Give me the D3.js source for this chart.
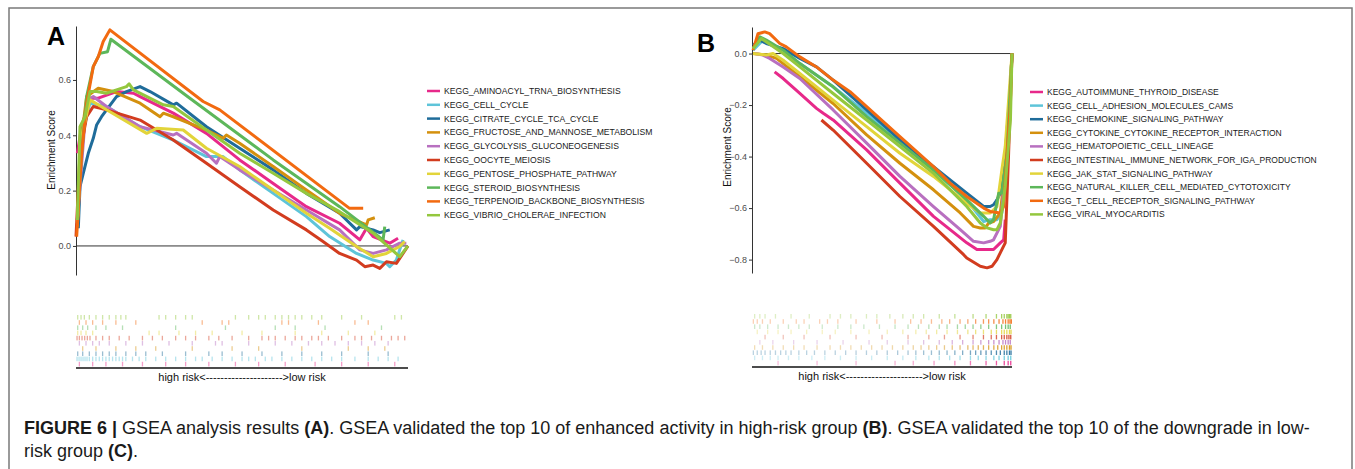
<!DOCTYPE html>
<html>
<head>
<meta charset="utf-8">
<script src="https://cdn.jsdelivr.net/npm/d3@7"></script>
<style>
body { margin: 0; background: #fff; }
text { font-family: "Liberation Sans", Arial, sans-serif; }
</style>
</head>
<body>
<svg id="fig"></svg>
<script>
// ---------- panel A : enriched in high risk ----------
const namesA = ["KEGG_AMINOACYL_TRNA_BIOSYNTHESIS", "KEGG_CELL_CYCLE", "KEGG_CITRATE_CYCLE_TCA_CYCLE",
  "KEGG_FRUCTOSE_AND_MANNOSE_METABOLISM", "KEGG_GLYCOLYSIS_GLUCONEOGENESIS", "KEGG_OOCYTE_MEIOSIS",
  "KEGG_PENTOSE_PHOSPHATE_PATHWAY", "KEGG_STEROID_BIOSYNTHESIS", "KEGG_TERPENOID_BACKBONE_BIOSYNTHESIS",
  "KEGG_VIBRIO_CHOLERAE_INFECTION"];
const namesB = ["KEGG_AUTOIMMUNE_THYROID_DISEASE", "KEGG_CELL_ADHESION_MOLECULES_CAMS", "KEGG_CHEMOKINE_SIGNALING_PATHWAY",
  "KEGG_CYTOKINE_CYTOKINE_RECEPTOR_INTERACTION", "KEGG_HEMATOPOIETIC_CELL_LINEAGE", "KEGG_INTESTINAL_IMMUNE_NETWORK_FOR_IGA_PRODUCTION",
  "KEGG_JAK_STAT_SIGNALING_PATHWAY", "KEGG_NATURAL_KILLER_CELL_MEDIATED_CYTOTOXICITY", "KEGG_T_CELL_RECEPTOR_SIGNALING_PATHWAY",
  "KEGG_VIRAL_MYOCARDITIS"];
const colors = ["#e7298a", "#5ec4d9", "#1f6c9a", "#d4900e", "#b870c0", "#d23c1f", "#e2d43a", "#5db75a", "#f26a10", "#94c73e"];

// running enrichment score, [rank %, ES]
const aAminoacyl = [[0.4,0.335],[1.7,0.431],[4.2,0.534],[6.7,0.534],[12.2,0.558],[17.3,0.552],[19.3,0.54],[29.3,0.48],[39.3,0.407],[49.3,0.311],[59.4,0.226],[69.4,0.142],[79.4,0.082],[85.5,0.022],[87.5,0.064],[89.5,0.034],[94.5,0.01],[97,0.028]];
const aCellCycle = [[0.4,0.07],[2.2,0.419],[4.2,0.516],[9.2,0.504],[19.3,0.431],[29.3,0.383],[39.3,0.323],[44.3,0.323],[49.3,0.275],[59.4,0.19],[69.4,0.106],[76.4,0.034],[84.5,-0.027],[89.5,-0.051],[93.5,-0.063],[94.5,-0.075],[96.5,-0.051],[97.5,-0.014],[98.5,0.022]];
const aCitrate = [[0.7,0.064],[1.2,0.214],[2.2,0.263],[3.7,0.335],[5.2,0.389],[6.2,0.437],[7.7,0.467],[9.2,0.492],[12.2,0.54],[15.2,0.558],[19.3,0.576],[22.3,0.558],[29.3,0.51],[30.3,0.516],[39.3,0.431],[49.3,0.353],[59.4,0.275],[69.4,0.19],[79.4,0.118],[84.5,0.058],[85.5,0.07],[89.5,0.058],[91.5,0.048],[94.5,0.058]];
const aFructose = [[0.4,0.07],[1.7,0.395],[3.2,0.54],[6.7,0.57],[11.2,0.558],[19.3,0.516],[25.3,0.467],[26.3,0.48],[29.3,0.467],[39.3,0.419],[44.3,0.389],[45.3,0.401],[49.3,0.371],[59.4,0.287],[69.4,0.202],[79.4,0.118],[87.5,0.076],[88,0.094],[90,0.102]];
const aGlycolysis = [[0.4,0.094],[3.2,0.528],[5.2,0.54],[9.2,0.504],[19.3,0.431],[29.3,0.401],[30.3,0.407],[39.3,0.335],[42.3,0.299],[43.3,0.323],[49.3,0.275],[59.4,0.202],[69.4,0.13],[79.4,0.058],[85.5,-0.014],[89.5,-0.027],[93.5,-0.014],[97.5,0.01],[99.5,0.01]];
const aOocyte = [[0,0.034],[1.2,0.335],[3.2,0.467],[5.2,0.504],[9.2,0.492],[19.3,0.455],[29.3,0.383],[39.3,0.299],[49.3,0.214],[59.4,0.13],[69.4,0.058],[74.4,0.016],[79.4,-0.027],[84.5,-0.051],[87,-0.075],[89.5,-0.069],[91.5,-0.081],[93.5,-0.057],[96.5,-0.063],[98.5,-0.027],[100,0]];
const aPentose = [[0.4,0.082],[1.7,0.395],[4.2,0.528],[9.2,0.492],[21.3,0.407],[24.3,0.425],[32.3,0.419],[39.3,0.353],[49.3,0.287],[59.4,0.202],[69.4,0.118],[76.4,0.064],[84.5,-0.002],[89.5,-0.039],[93.5,-0.027],[97.5,-0.002],[99,0.016]];
const aSteroid = [[0.4,0.094],[1.7,0.335],[3.2,0.54],[5.2,0.648],[7.2,0.696],[9.5,0.702],[10.5,0.747],[34.3,0.534],[59.4,0.311],[79.4,0.142],[92.5,0.022],[93,0.07]];
const aTerpenoid = [[0.2,0.034],[1.7,0.335],[3.2,0.516],[5.2,0.648],[6.7,0.684],[8.2,0.739],[10.2,0.781],[38.3,0.522],[43.3,0.492],[82.4,0.136],[86.5,0.136]];
const aVibrio = [[0.4,0.094],[1.2,0.431],[2.7,0.467],[4.2,0.558],[6.2,0.558],[9.2,0.552],[12.2,0.564],[15.2,0.576],[16,0.586],[17.3,0.564],[26.3,0.51],[29.3,0.504],[39.3,0.419],[49.3,0.335],[59.4,0.263],[69.4,0.19],[79.4,0.124],[89.5,0.046],[97.5,-0.039],[100,0]];

// gene-set hits along the ranked list (rank %)
const hitsA = [
  [1,5,9,14,20,27,33,40,48,55,63,72,80,88,96],
  [0.3,0.9,1.5,2.1,2.7,3.3,4,5,6,7,8,9,10,11,12,13,14,15,17,19,21,24,27,30,33,36,38,41,44,47,50,52,54,57,59,62,65,68,71,74,77,80,84,88,91,94,97],
  [0.5,2,4,6,8,10,12,15,18,21,26,33,40,44,50,56,62,68,74,80,88,94],
  [2,6,12,18,24,35,47,55,68,82,88,93],
  [1,3,5,7,10,15,20,28,35,42,44,52,60,65,70,74,78,82,86,90,94],
  [0.3,1,1.8,2.6,3.4,4.2,6,8,10,13,16,20,23,26,30,33,36,40,43,47,52,56,58,60,63,66,68,71,73,76,80,84,86,89,92,95,97,99],
  [0.5,1.5,3,5,22,25,31,36,41,50,56,66,74,82,90],
  [0.5,2,3.5,6,9,14,30,45,60,66,75,92],
  [1,3,5,8,12,18,38,44,46,62,64,73,84,88],
  [0.5,1.5,2.5,4,6,8,10,12,13.5,15,25,27,30,33,35,48,52,55,57,60,62,64,66,68,71,74,80,86,96,98]
];

// ---------- panel B : enriched in low risk ----------
const bAutoimmune = [[8.7,-0.071],[12,-0.097],[18.4,-0.155],[24.8,-0.213],[27.4,-0.232],[31.2,-0.258],[44.1,-0.374],[56.9,-0.503],[69.8,-0.632],[82.6,-0.735],[86.5,-0.761],[89.1,-0.761],[92.9,-0.761],[95.5,-0.735],[96.8,-0.723],[97.4,-0.645]];
const bCellAdhesion = [[0.4,0.013],[4.2,0.052],[12,0.013],[18.4,-0.039],[31.2,-0.129],[44.1,-0.232],[56.9,-0.342],[69.8,-0.452],[82.6,-0.568],[86.5,-0.619],[89.1,-0.652],[91.6,-0.645],[94.2,-0.645],[96.1,-0.619],[98.1,-0.452],[100,0]];
const bChemokine = [[0.4,0.032],[3,0.052],[5.5,0.039],[12,0.019],[18.4,-0.019],[24.8,-0.052],[31.2,-0.103],[44.1,-0.219],[56.9,-0.335],[69.8,-0.439],[82.6,-0.542],[89.1,-0.594],[91.6,-0.594],[92.9,-0.587],[94.2,-0.568],[95.5,-0.542],[97.4,-0.387],[99.4,-0.129],[100,0]];
const bCytokine = [[0.4,0],[5.5,-0.006],[9.4,-0.019],[12,-0.039],[18.4,-0.09],[31.2,-0.194],[44.1,-0.316],[56.9,-0.426],[69.8,-0.529],[80.1,-0.619],[85.2,-0.671],[87.8,-0.677],[89.7,-0.677],[91,-0.658],[92.9,-0.652],[95.5,-0.619],[98.1,-0.387],[100,0]];
const bHematopoietic = [[1,0],[4.2,-0.006],[6.8,-0.019],[12,-0.052],[18.4,-0.097],[31.2,-0.219],[44.1,-0.348],[56.9,-0.477],[69.8,-0.594],[80.1,-0.684],[85.2,-0.729],[89.1,-0.735],[91.6,-0.729],[92.9,-0.723],[95.5,-0.671],[98.1,-0.387],[100,0]];
const bIntestinal = [[26.7,-0.258],[31.2,-0.297],[44.1,-0.426],[56.9,-0.555],[69.8,-0.671],[81.4,-0.781],[82.6,-0.794],[87.8,-0.826],[90.4,-0.832],[92.3,-0.826],[94.2,-0.8],[96.1,-0.761],[97.4,-0.735],[98.7,-0.387],[100,0]];
const bJakStat = [[0.4,0],[5.5,-0.006],[8.1,0],[12,-0.026],[18.4,-0.077],[31.2,-0.181],[44.1,-0.284],[56.9,-0.387],[69.8,-0.477],[82.6,-0.581],[87.8,-0.619],[91.6,-0.619],[94.2,-0.594],[96.1,-0.452],[97.4,-0.361],[100,0]];
const bNaturalKiller = [[0.4,0.019],[3,0.065],[5.5,0.052],[12,0.013],[18.4,-0.039],[31.2,-0.129],[44.1,-0.245],[56.9,-0.348],[69.8,-0.452],[82.6,-0.568],[89.1,-0.632],[91.6,-0.658],[92.9,-0.645],[94.9,-0.542],[96.1,-0.542],[98.1,-0.387],[100,0]];
const bTCell = [[0.4,0.013],[2.3,0.077],[4.9,0.084],[6.8,0.077],[10.7,0.039],[13.2,0.026],[18.4,-0.013],[24.8,-0.052],[31.2,-0.103],[37.7,-0.148],[44.1,-0.206],[56.9,-0.323],[69.8,-0.439],[76.2,-0.503],[82.6,-0.555],[89.1,-0.6],[91.6,-0.613],[95.5,-0.619],[96.8,-0.594],[98.1,-0.387],[99.4,-0.194],[100,0]];
const bViral = [[0.4,0.019],[3.6,0.058],[12,0],[18.4,-0.052],[31.2,-0.155],[44.1,-0.258],[56.9,-0.361],[69.8,-0.465],[82.6,-0.594],[87.8,-0.658],[90.4,-0.677],[92.9,-0.684],[94.2,-0.684],[95.5,-0.658],[97.4,-0.516],[99.4,-0.258],[100,0]];

const hitsB = [
  [10,25,40,55,62,70,78,84,90,94,97,98.5,99.5],
  [1,4,7,10,14,18,23,28,34,40,46,52,58,63,68,72,76,80,84,87,90,93,95,97,98.5,99.5],
  [0.5,2,3.5,5,7,9,11,13,15,18,21,24,28,32,36,40,44,48,52,56,60,63,66,69,72,75,78,81,84,86,88,90,92,94,95.5,97,98,99,99.6],
  [1,4,8,12,16,20,25,30,34,38,42,46,50,54,58,62,65,68,71,74,77,80,83,85,87,89,91,93,94.5,96,97,98,99,99.6],
  [3,8,16,25,35,45,52,60,66,72,77,81,85,88,91,93,95,96.5,97.5,98.5,99.3],
  [5,12,20,30,40,50,60,68,74,80,85,89,92,94,96,97,98,98.8,99.5],
  [2,6,10,15,21,27,32,38,45,52,58,63,67,71,75,79,83,86,89,92,94,96,97,98,99,99.6],
  [1,3,6,10,14,18,22,27,33,38,43,49,55,60,64,68,72,75,79,82,85,88,91,94,96,97.5,98.5,99.3],
  [0.5,2,4,7,12,17,20,26,29,33,40,48,55,61,65,69,73,76,80,83,86,89,91,93,95,96.5,97.5,98.5,99.2,99.7],
  [1,3,5,9,15,22,30,34,38,44,48,53,58,62,66,72,78,85,90,94,96,97,98,98.5,99,99.5]
];

const ticksA = [0, 0.2, 0.4, 0.6];
const ticksB = [-0.8, -0.6, -0.4, -0.2, 0];

const W = 1355, H = 469;
const svg = d3.select("#fig").attr("width", W).attr("height", H);

// figure frame
svg.append("rect").attr("x", 9).attr("y", 8).attr("width", 1343).attr("height", 480)
  .attr("fill", "none").attr("stroke", "#7a7a7a").attr("stroke-width", 1.5);

function panel(p) {
  const g = svg.append("g");
  const x = d3.scaleLinear().domain([0, 100]).range([p.x0, p.x1]);
  const y = d3.scaleLinear().domain(p.ydom).range([p.yb, p.yt]);

  g.append("text").attr("x", p.lx).attr("y", p.ly).attr("font-size", 25)
    .attr("font-weight", "bold").text(p.letter);

  const ax = g.append("g").attr("transform", `translate(${p.x0},0)`)
    .call(d3.axisLeft(y).tickValues(p.ticks).tickFormat(d3.format(".1f")).tickSize(3).tickPadding(2).tickSizeOuter(0));
  ax.select(".domain").attr("stroke", "#333");
  ax.selectAll(".tick line").attr("stroke", "#333");
  ax.selectAll(".tick text").attr("fill", "#4d4d4d").attr("font-size", 9)
    .style("font-family", "Liberation Sans, Arial, sans-serif");

  g.append("text").attr("transform", `translate(${p.x0 - 21},${p.ymid}) rotate(-90)`)
    .attr("text-anchor", "middle").attr("font-size", 10).attr("fill", "#111").text("Enrichment Score");

  g.append("line").attr("x1", p.x0).attr("x2", p.x1).attr("y1", y(0)).attr("y2", y(0))
    .attr("stroke", "#333").attr("stroke-width", 1);

  const line = d3.line().x(d => x(d[0])).y(d => y(d[1]));
  g.selectAll("path.es").data(p.series).join("path").attr("class", "es")
    .attr("d", line).attr("fill", "none")
    .attr("stroke", (d, i) => colors[i]).attr("stroke-width", 3)
    .attr("stroke-linejoin", "round");

  // legend
  const lg = g.append("g").attr("transform", `translate(${p.legx},${p.legy})`);
  p.names.forEach((n, i) => {
    const r = lg.append("g").attr("transform", `translate(0,${i * p.legdy})`);
    r.append("line").attr("x1", 0).attr("x2", 13).attr("stroke", colors[i]).attr("stroke-width", 2.5);
    r.append("text").attr("x", 17).attr("dy", "0.35em").attr("font-size", p.legfs).attr("fill", "#1a1a1a").text(n);
  });

  // hit strips, last set on top
  const rowH = 5.2;
  p.hits.forEach((hs, i) => {
    const row = p.hits.length - 1 - i;
    g.append("g").selectAll("rect").data(hs).join("rect")
      .attr("x", d => x(d) - 0.6).attr("width", 1.3)
      .attr("y", p.hy + row * rowH).attr("height", rowH - 0.6)
      .attr("fill", colors[i])
      .attr("opacity", d => p.fade ? 0.3 + 0.6 * Math.pow(d / 100, 4) : 0.45);
  });
  g.append("line").attr("x1", p.x0).attr("x2", p.x1).attr("y1", p.hy + 10 * rowH + 1).attr("y2", p.hy + 10 * rowH + 1)
    .attr("stroke", "#111").attr("stroke-width", 1.6);
  g.append("text").attr("x", (p.x0 + p.x1) / 2).attr("y", p.hy + 10 * rowH + 14)
    .attr("text-anchor", "middle").attr("font-size", 11).attr("fill", "#111")
    .text("high risk<--------------------->low risk");
}

panel({
  letter: "A", lx: 47, ly: 45, x0: 76, x1: 408, yt: 26, yb: 275, ydom: [-0.105, 0.795], ymid: 150,
  ticks: ticksA, names: namesA, legx: 427, legy: 91, legdy: 13.8, legfs: 8.6,
  series: [aAminoacyl, aCellCycle, aCitrate, aFructose, aGlycolysis, aOocyte, aPentose, aSteroid, aTerpenoid, aVibrio],
  hits: hitsA, hy: 315, fade: false
});
panel({
  letter: "B", lx: 697, ly: 52, x0: 752, x1: 1012, yt: 27, yb: 273, ydom: [-0.852, 0.103], ymid: 147,
  ticks: ticksB, names: namesB, legx: 1030, legy: 92, legdy: 13.6, legfs: 8.5,
  series: [bAutoimmune, bCellAdhesion, bChemokine, bCytokine, bHematopoietic, bIntestinal, bJakStat, bNaturalKiller, bTCell, bViral],
  hits: hitsB, hy: 314, fade: true
});

// caption
const cap = svg.append("g").attr("font-size", 18).attr("fill", "#1a1a1a");
const l1 = cap.append("text").attr("x", 24).attr("y", 434);
[["FIGURE 6 | ", true], ["GSEA analysis results ", false], ["(A)", true],
 [". GSEA validated the top 10 of enhanced activity in high-risk group ", false], ["(B)", true],
 [". GSEA validated the top 10 of the downgrade in low-", false]]
  .forEach(([t, b]) => l1.append("tspan").attr("font-weight", b ? "bold" : null).text(t));
const l2 = cap.append("text").attr("x", 24).attr("y", 457);
[["risk group ", false], ["(C)", true], [".", false]]
  .forEach(([t, b]) => l2.append("tspan").attr("font-weight", b ? "bold" : null).text(t));
</script>
</body>
</html>
